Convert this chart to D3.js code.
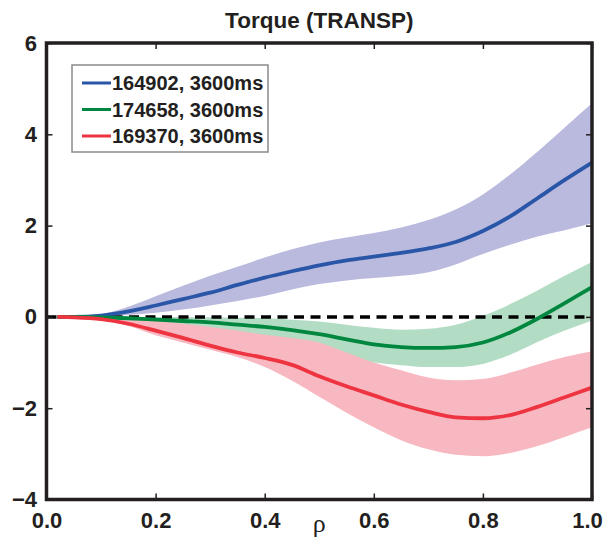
<!DOCTYPE html>
<html>
<head>
<meta charset="utf-8">
<script src="https://cdn.jsdelivr.net/npm/d3@7"></script>
<style>
  body { margin: 0; background: #fff; }
  text { font-family: "Liberation Sans", Arial, sans-serif; }
</style>
</head>
<body>
<div id="plot"></div>
<script>
let width = 603;
let height = 544;
let margin = { left: 46.5, right: 11, top: 43, bottom: 44.5 };

// rho grid
let rho = [0.02, 0.05, 0.1, 0.15, 0.2, 0.25, 0.3, 0.35, 0.4, 0.45, 0.5,
           0.55, 0.6, 0.65, 0.7, 0.75, 0.8, 0.85, 0.9, 0.95, 1.0];

// 164902, 3600ms
let blueMid = [0, 0, 0.03, 0.12, 0.25, 0.39, 0.53, 0.7, 0.86, 1.0, 1.13,
               1.24, 1.32, 1.4, 1.5, 1.64, 1.88, 2.2, 2.6, 3.0, 3.38];
let blueLo = [0, 0, 0.01, 0.04, 0.09, 0.16, 0.25, 0.35, 0.46, 0.6, 0.72,
              0.8, 0.85, 0.9, 0.98, 1.15, 1.38, 1.58, 1.76, 1.9, 2.05];
let blueHi = [0, 0.01, 0.06, 0.22, 0.45, 0.68, 0.9, 1.1, 1.3, 1.48, 1.63,
              1.74, 1.84, 1.96, 2.12, 2.35, 2.68, 3.12, 3.62, 4.15, 4.68];

// 174658, 3600ms
let greenMid = [0, 0, -0.01, -0.03, -0.06, -0.09, -0.12, -0.17, -0.22, -0.29, -0.38,
                -0.49, -0.6, -0.66, -0.68, -0.66, -0.56, -0.34, -0.04, 0.3, 0.65];
let greenLo = [0, -0.01, -0.03, -0.08, -0.15, -0.25, -0.35, -0.46, -0.57, -0.68, -0.8,
               -0.91, -1.0, -1.06, -1.1, -1.1, -1.03, -0.83, -0.55, -0.3, -0.08];
let greenHi = [0, 0, 0, 0, 0, 0, -0.01, -0.02, -0.03, -0.06, -0.1,
               -0.17, -0.24, -0.28, -0.26, -0.17, 0.02, 0.28, 0.58, 0.9, 1.2];

// 169370, 3600ms
let redMid = [0, -0.01, -0.05, -0.15, -0.3, -0.46, -0.63, -0.78, -0.9, -1.05, -1.3,
              -1.52, -1.72, -1.92, -2.08, -2.2, -2.22, -2.15, -1.97, -1.76, -1.55];
let redLo = [0, -0.02, -0.08, -0.2, -0.4, -0.56, -0.72, -0.88, -1.1, -1.4, -1.75,
             -2.1, -2.42, -2.7, -2.9, -3.02, -3.05, -2.98, -2.83, -2.63, -2.42];
let redHi = [0, 0, -0.02, -0.05, -0.08, -0.15, -0.22, -0.3, -0.39, -0.46, -0.56,
             -0.78, -1.0, -1.17, -1.33, -1.39, -1.36, -1.22, -1.04, -0.88, -0.75];

let legendLabels = ["164902, 3600ms", "174658, 3600ms", "169370, 3600ms"];
let xTicks = [0, 0.2, 0.4, 0.6, 0.8, 1.0];
let yTicks = [-4, -2, 0, 2, 4, 6];

let series = [
    { label: legendLabels[0], mid: blueMid, lo: blueLo, hi: blueHi, line: "#2a56a8", band: "#b9badd" },
    { label: legendLabels[1], mid: greenMid, lo: greenLo, hi: greenHi, line: "#00873f", band: "#b3dcc4" },
    { label: legendLabels[2], mid: redMid, lo: redLo, hi: redHi, line: "#ee3440", band: "#f8b8c1" }
];

let svg = d3.select("#plot")
    .append("svg")
    .attr("width", width)
    .attr("height", height);

let x = d3.scaleLinear()
    .domain([0, 1])
    .range([margin.left, width - margin.right]);

let y = d3.scaleLinear()
    .domain([-4, 6])
    .range([height - margin.bottom, margin.top]);

let frameColor = "#231f20";

// bands
series.forEach(function (s) {
    let area = d3.area()
        .x((d, i) => x(rho[i]))
        .y0((d, i) => y(s.lo[i]))
        .y1((d, i) => y(s.hi[i]))
        .curve(d3.curveMonotoneX);
    svg.append("path")
        .datum(s.mid)
        .attr("d", area)
        .style("fill", s.band);
});

// zero line
svg.append("line")
    .attr("x1", x(0))
    .attr("x2", x(1))
    .attr("y1", y(0))
    .attr("y2", y(0))
    .style("stroke", "#000")
    .style("stroke-width", 3.5)
    .style("stroke-dasharray", "10,6.5");

// mean lines
series.forEach(function (s) {
    let line = d3.line()
        .x((d, i) => x(rho[i]))
        .y(d => y(d))
        .curve(d3.curveMonotoneX);
    svg.append("path")
        .datum(s.mid)
        .attr("d", line)
        .style("fill", "none")
        .style("stroke", s.line)
        .style("stroke-width", 3.8);
});

// axes with inward ticks
let fmtY = d => d < 0 ? "\u2212" + Math.abs(d) : "" + d;

let xAxis = d3.axisBottom(x).tickValues(xTicks).tickSize(-6).tickPadding(13)
    .tickFormat(d3.format(".1f"));
let xTop = d3.axisTop(x).tickValues(xTicks).tickSize(-6).tickFormat("");
let yAxis = d3.axisLeft(y).tickValues(yTicks).tickSize(-6).tickPadding(9.5)
    .tickFormat(fmtY);
let yRight = d3.axisRight(y).tickValues(yTicks).tickSize(-6).tickFormat("");

function styleAxis(g) {
    g.select(".domain").remove();
    g.selectAll(".tick line").style("stroke", frameColor).style("stroke-width", 1.5);
    g.selectAll("text")
        .style("font-size", "22px")
        .style("font-weight", "bold")
        .style("font-family", "'Liberation Sans', Arial, sans-serif")
        .style("fill", frameColor);
}

let xg = svg.append("g")
    .attr("transform", "translate(0," + y(-4) + ")")
    .call(xAxis).call(styleAxis);
// keep the last label inside the page
xg.selectAll(".tick text").filter(d => d === 1).attr("dx", -5);

svg.append("g")
    .attr("transform", "translate(0," + y(6) + ")")
    .call(xTop).call(styleAxis);
svg.append("g")
    .attr("transform", "translate(" + x(0) + ",0)")
    .call(yAxis).call(styleAxis);
svg.append("g")
    .attr("transform", "translate(" + x(1) + ",0)")
    .call(yRight).call(styleAxis);

// frame
svg.append("rect")
    .attr("x", x(0))
    .attr("y", y(6))
    .attr("width", x(1) - x(0))
    .attr("height", y(-4) - y(6))
    .style("fill", "none")
    .style("stroke", frameColor)
    .style("stroke-width", 3.5);

// title
svg.append("text")
    .attr("x", (x(0) + x(1)) / 2)
    .attr("y", 28)
    .style("text-anchor", "middle")
    .style("font-size", "22.5px")
    .style("font-weight", "bold")
    .style("fill", frameColor)
    .text("Torque (TRANSP)");

// x label
svg.append("text")
    .attr("x", (x(0) + x(1)) / 2)
    .attr("y", 532)
    .style("text-anchor", "middle")
    .style("font-size", "26px")
    .style("font-family", "'Liberation Serif', 'DejaVu Serif', serif")
    .style("fill", frameColor)
    .text("\u03c1");

// legend
let legend = svg.append("g").attr("transform", "translate(72,65)");
legend.append("rect")
    .attr("width", 196)
    .attr("height", 87)
    .style("fill", "#fff")
    .style("stroke", "#8a8a8a")
    .style("stroke-width", 1.5);

series.forEach(function (s, i) {
    let rowY = 18 + i * 26.5;
    legend.append("line")
        .attr("x1", 10)
        .attr("x2", 39)
        .attr("y1", rowY)
        .attr("y2", rowY)
        .style("stroke", s.line)
        .style("stroke-width", 3);
    legend.append("text")
        .attr("x", 40)
        .attr("y", rowY)
        .attr("dy", "0.36em")
        .style("font-size", "20px")
        .style("font-weight", "bold")
        .style("fill", frameColor)
        .text(s.label);
});
</script>
</body>
</html>
